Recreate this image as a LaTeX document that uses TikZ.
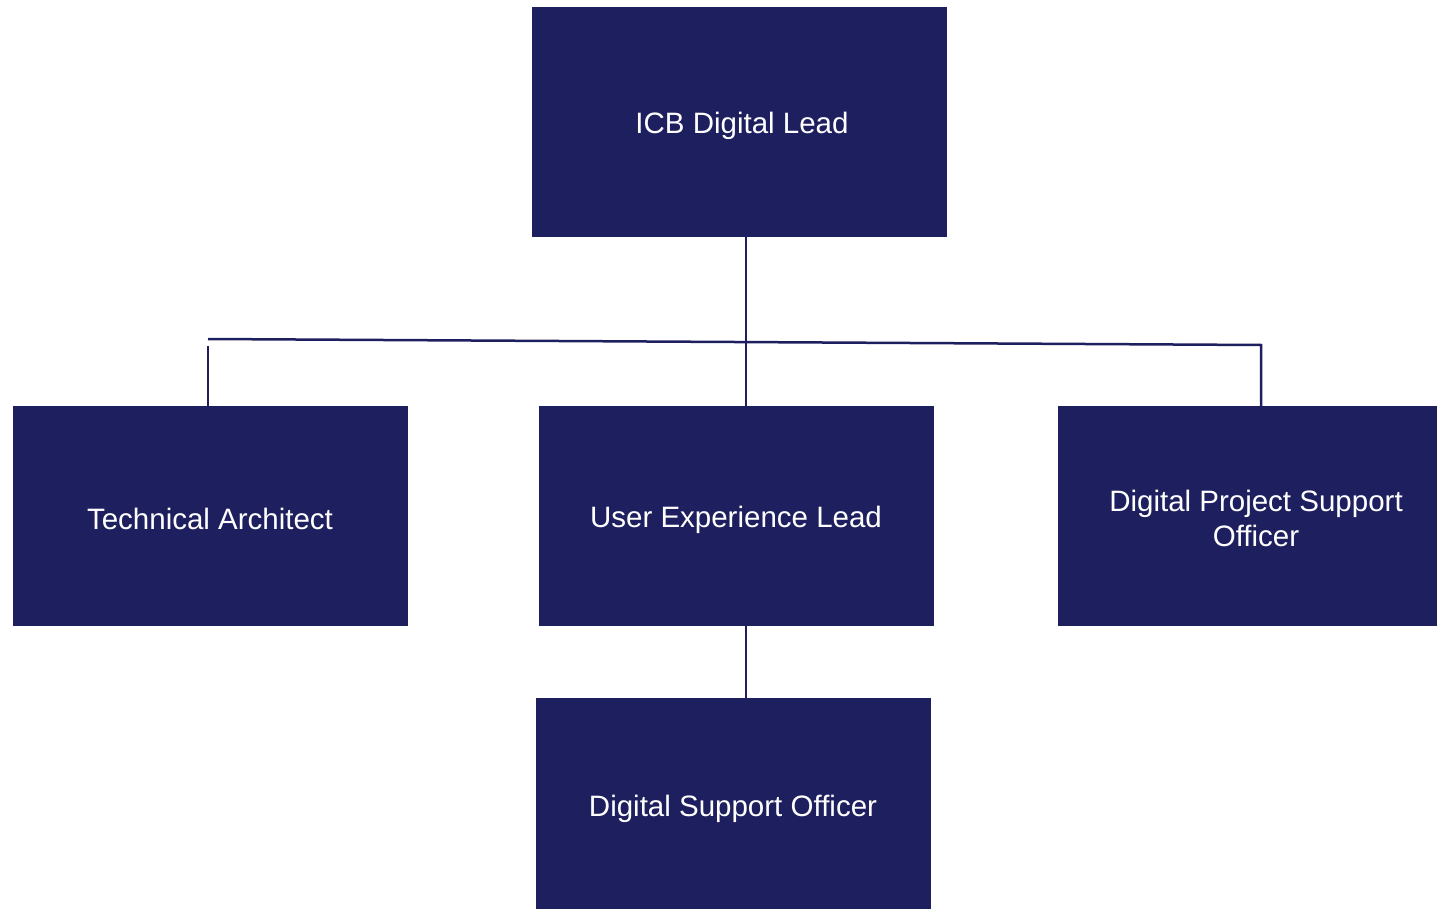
\documentclass[tikz,border=0pt]{standalone}
\usepackage{fontspec}
\setmainfont{Liberation Sans}
\definecolor{navy}{HTML}{1E1F5F}
\tikzset{
  rolebox/.style={fill=navy, draw=none, text=white, align=center, font=\fontsize{29.5}{35}\selectfont, inner sep=0pt},
  link/.style={draw=navy, line width=2.5pt}
}
\begin{document}
\begin{tikzpicture}[x=1pt,y=-1pt]
\useasboundingbox (0,0) rectangle (1437,909);
% boxes
\fill[navy] (532,7) rectangle (947,237);
\node[rolebox] (icb) at (742,126) {ICB Digital Lead};
\fill[navy] (13,406) rectangle (408,626);
\node[rolebox] (ta) at (210,519) {Technical Architect};
\fill[navy] (539,406) rectangle (934,626);
\node[rolebox] (ux) at (736,520) {User Experience Lead};
\fill[navy] (1058,406) rectangle (1437,626);
\node[rolebox] (dpso) at (1256,518) {Digital Project Support\\Officer};
\fill[navy] (536,698) rectangle (931,909);
\node[rolebox] (dso) at (733,809) {Digital Support Officer};
% connector points
\coordinate (icbS) at (746,237);
\coordinate (uxN) at (746,406);
\coordinate (uxS) at (746,626);
\coordinate (dsoN) at (746,698);
\coordinate (hl) at (208,339);
\coordinate (hr) at (1261,345);
\coordinate (taTop) at (208,346);
\coordinate (taN) at (208,406);
\coordinate (dpsoN) at (1261,406);
% connectors
\draw[link] (icbS) -- (uxN);
\draw[link] (hl) -- (hr) -- (dpsoN);
\draw[link] (taTop) -- (taN);
\draw[link] (uxS) -- (dsoN);
\end{tikzpicture}
\end{document}
